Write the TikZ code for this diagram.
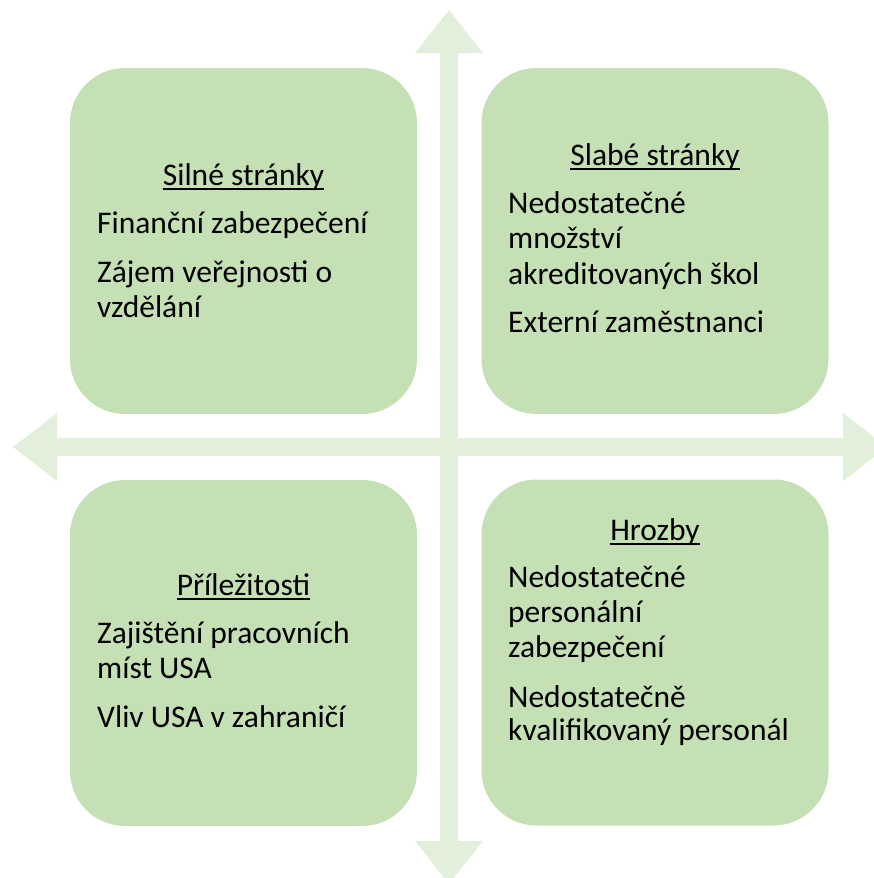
\documentclass[tikz,border=0pt]{standalone}
\usepackage{fontspec}
\setmainfont{Carlito}

\definecolor{quadgreen}{HTML}{C5E0B4}
\definecolor{axisgreen}{HTML}{E2EFDA}

\tikzset{
	quad/.style = {fill = quadgreen, rounded corners = 55pt, minimum width = 347pt, minimum height = 346pt},
	heading/.style = {anchor = base, inner sep = 0pt, font = \fontsize{31.5}{35}\selectfont},
	item/.style = {anchor = base west, inner sep = 0pt, font = \fontsize{31.5}{35}\selectfont},
	rule/.style = {line width = 1.7pt}
}

\begin{document}
\begin{tikzpicture}[x = 1pt, y = -1pt]

	\useasboundingbox (0, 0) rectangle (874, 878);
	\clip (0, 0) rectangle (874, 878);

	% Cross of two double arrows
	
	\begin{scope}[fill = axisgreen]
	
		\fill (449, 10) -- (483, 53) -- (458, 53) -- (458, 841) -- (483, 841) -- (449, 884)
			-- (415, 841) -- (440, 841) -- (440, 53) -- (415, 53) -- cycle;
		\fill (13, 447) -- (57, 413) -- (57, 438) -- (843, 438) -- (843, 413) -- (887, 447)
			-- (843, 481) -- (843, 456) -- (57, 456) -- (57, 481) -- cycle;
	
	\end{scope}

	% Four quadrants
	
	\node [quad] (silne) at (243.5, 241) {};
	\node [quad] (slabe) at (655, 241) {};
	\node [quad] (prilezitosti) at (243.5, 653) {};
	\node [quad] (hrozby) at (655, 652.5) {};
	
	% Strengths
	
	\node [heading] (silne-t) at (243.5, 185) {Silné stránky};
	\node [item] (silne-1) at (97, 233) {Finanční zabezpečení};
	\node [item] (silne-2) at (97, 282) {Zájem veřejnosti o};
	\node [item] (silne-3) at (97, 317) {vzdělání};
	
	% Weaknesses
	
	\node [heading] (slabe-t) at (655, 165) {Slabé stránky};
	\node [item] (slabe-1) at (508, 213) {Nedostatečné};
	\node [item] (slabe-2) at (508, 248) {množství};
	\node [item] (slabe-3) at (508, 284) {akreditovaných škol};
	\node [item] (slabe-4) at (508, 332) {Externí zaměstnanci};
	
	% Opportunities
	
	\node [heading] (prilezitosti-t) at (243.5, 595) {Příležitosti};
	\node [item] (prilezitosti-1) at (97, 643) {Zajištění pracovních};
	\node [item] (prilezitosti-2) at (97, 678) {míst USA};
	\node [item] (prilezitosti-3) at (97, 727) {Vliv USA v zahraničí};
	
	% Threats
	
	\node [heading] (hrozby-t) at (655, 540) {Hrozby};
	\node [item] (hrozby-1) at (508, 587) {Nedostatečné};
	\node [item] (hrozby-2) at (508, 622) {personální};
	\node [item] (hrozby-3) at (508, 657) {zabezpečení};
	\node [item] (hrozby-4) at (508, 707) {Nedostatečně};
	\node [item] (hrozby-5) at (508, 740) {kvalifikovaný personál};
	
	% Underlined headings
	
	\foreach \t in {silne-t, slabe-t, prilezitosti-t, hrozby-t}
		\draw [rule] ([yshift = -4pt] \t.base west) -- ([yshift = -4pt] \t.base east);

\end{tikzpicture}
\end{document}
